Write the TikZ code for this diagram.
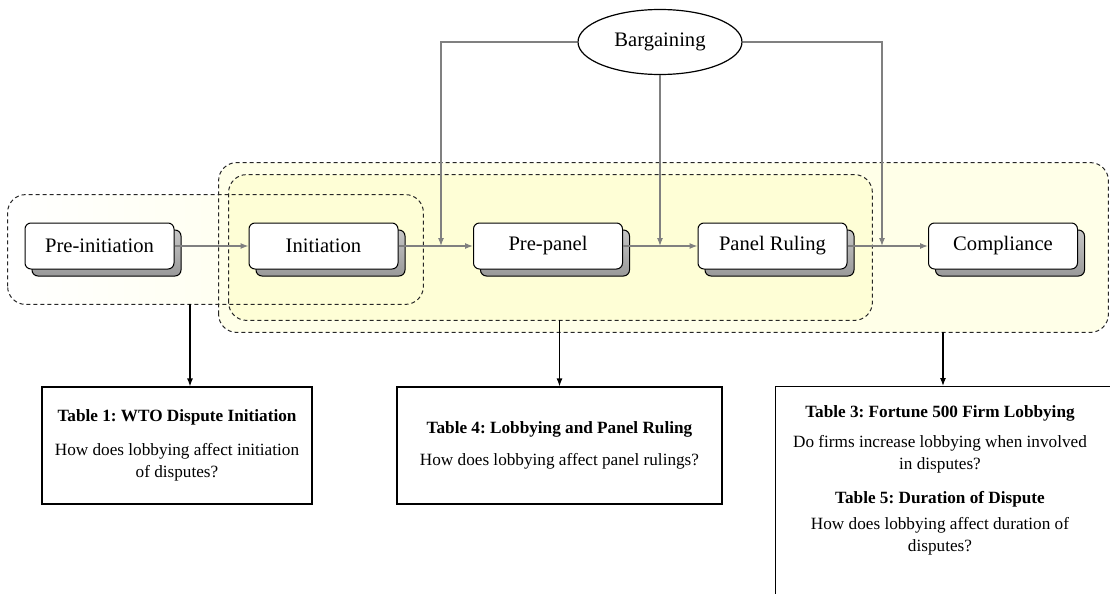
\documentclass[tikz,border=0pt]{standalone}
\usepackage{fontspec}
\setmainfont{Liberation Serif}
\usetikzlibrary{shapes.geometric,shadows,arrows.meta}
\definecolor{outerfill}{HTML}{FFFFE8}
\definecolor{innerfill}{HTML}{FEFED6}
\definecolor{leftfill}{HTML}{FFFFE4}
\frenchspacing
\begin{document}
\begin{tikzpicture}[x=0.5pt,y=-0.5pt,
  stage/.style={draw=black, line width=0.5pt, fill=white, rounded corners=3pt,
    minimum width=74.5pt, minimum height=23pt, inner sep=0pt,
    font=\fontsize{10.3}{12}\selectfont,
    general shadow={shadow xshift=3.5pt, shadow yshift=-3.5pt, draw=black,
      line width=0.5pt, top color=gray!45, bottom color=gray!80}},
  grpfill/.style={draw=none, rounded corners=9pt, inner sep=0pt},
  grpline/.style={draw=black!85, line width=0.5pt, dash pattern=on 2pt off 1.5pt,
    rounded corners=9pt},
  tbl/.style={draw=black, line width=0.6pt, fill=white, inner sep=0pt, align=flush center,
    font=\fontsize{8.6}{11}\selectfont},
  txt/.style={inner sep=0pt, align=flush center, font=\fontsize{8.6}{11}\selectfont},
  garrow/.style={draw=gray, line width=0.6pt, -{Latex[length=4pt,width=3pt]}},
  karrow/.style={draw=black, line width=0.6pt, -{Latex[length=4pt,width=3pt]}}
]
\useasboundingbox (0,0) rectangle (1110,594);
\clip (0,0) rectangle (1110,594);

% group fills
\node[grpfill, left color=white, right color=leftfill, minimum width=207.5pt, minimum height=54.5pt] (grpL) at (215.5,249.5) {};
\node[grpfill, fill=outerfill, minimum width=444.5pt, minimum height=84.5pt] (grpOut) at (663.5,247.5) {};
\node[grpfill, fill=innerfill, minimum width=321.5pt, minimum height=72.5pt] (grpIn) at (550.5,247.5) {};
% group borders
\draw[grpline] (grpOut.south west) rectangle (grpOut.north east);
\draw[grpline] (grpIn.south west) rectangle (grpIn.north east);
\draw[grpline] (grpL.south west) rectangle (grpL.north east);

% stages
\node[stage] (preinit) at (99.5,246) {Pre-initiation};
\node[stage] (init) at (323.5,246) {Initiation};
\node[stage] (prepanel) at (548,246) {Pre-panel};
\node[stage] (ruling) at (772.5,246) {Panel Ruling};
\node[stage] (compl) at (1003,246) {Compliance};

% bargaining
\node[ellipse, draw=black, line width=0.6pt, fill=white, minimum width=82pt,
  minimum height=32.5pt, inner sep=0pt, font=\fontsize{10.3}{12}\selectfont]
  (barg) at (660,42) {Bargaining};

\coordinate (j1) at (441,246);
\coordinate (j2) at (660,246);
\coordinate (j3) at (882,246);

\draw[garrow] (preinit.east) -- (init.west);
\draw[garrow] (init.east) -- (prepanel.west);
\draw[garrow] (prepanel.east) -- (ruling.west);
\draw[garrow] (ruling.east) -- (compl.west);
\draw[garrow] (barg.west) -| (j1);
\draw[garrow] (barg.south) -- (j2);
\draw[garrow] (barg.east) -| (j3);

% tables
\node[tbl, minimum width=135pt, minimum height=58.5pt, text width=128pt] (t1) at (177,445.5)
  {\textbf{Table 1: WTO Dispute Initiation}\\[6pt]How does lobbying affect initiation of disputes?};
\node[tbl, minimum width=162.5pt, minimum height=58.5pt, text width=155pt] (t4) at (559.5,445.5)
  {\textbf{Table 4: Lobbying and Panel Ruling}\\[5pt]How does lobbying affect panel rulings?};
\node[tbl, anchor=north west, minimum width=172pt, minimum height=112pt] (t3box) at (775,386) {};
\node[txt, text width=152pt] (t3) at (940,480)
  {\textbf{Table 3: Fortune 500 Firm Lobbying}\\[4pt]Do firms increase lobbying when involved in disputes?\\[6pt]\textbf{Table 5: Duration of Dispute}\\[2pt]How does lobbying affect duration of disputes?};

\coordinate (a1) at (190,0);
\coordinate (a3) at (943,0);
\draw[karrow] (grpL.south -| a1) -- (t1.north -| a1);
\draw[karrow] (grpIn.south -| t4.north) -- (t4.north);
\draw[karrow] (grpOut.south -| a3) -- (t3box.north -| a3);
\end{tikzpicture}
\end{document}
